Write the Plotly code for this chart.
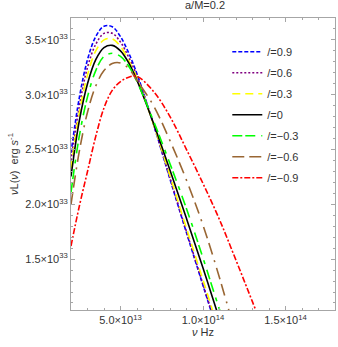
import plotly.graph_objects as go

# frequency grid (Hz)
nu = [2.0e13, 2.5e13, 3.0e13, 3.5e13, 4.0e13, 4.5e13, 5.0e13, 5.5e13, 6.0e13,
      7.0e13, 8.0e13, 9.0e13, 1.0e14, 1.1e14, 1.2e14, 1.3e14, 1.4e14]

# luminosity nu*L(nu) in units of 1e33 erg/s
L_p09 = [2.47, 2.97, 3.32, 3.53, 3.625, 3.62, 3.53, 3.38, 3.19, 2.73, 2.23, 1.74, 1.26, 0.78]
L_p06 = [2.40, 2.89, 3.25, 3.46, 3.56, 3.56, 3.48, 3.34, 3.17, 2.73, 2.24, 1.75, 1.27, 0.79]
L_p03 = [2.33, 2.83, 3.18, 3.40, 3.50, 3.51, 3.44, 3.31, 3.15, 2.73, 2.26, 1.78, 1.31, 0.83]
L_0 = [2.255, 2.76, 3.10, 3.32, 3.43, 3.45, 3.40, 3.29, 3.13, 2.74, 2.31, 1.87, 1.42, 0.95]
L_m03 = [2.11, 2.62, 2.98, 3.22, 3.35, 3.378, 3.35, 3.26, 3.12, 2.76, 2.37, 1.96, 1.51, 1.04, 0.6]
L_m06 = [2.00, 2.48, 2.84, 3.08, 3.22, 3.285, 3.29, 3.24, 3.13, 2.90, 2.58, 2.22, 1.81, 1.33, 0.80]
L_m09 = [1.62, 1.98, 2.30, 2.62, 2.88, 3.04, 3.12, 3.16, 3.167, 3.03, 2.80, 2.50, 2.19, 1.86, 1.49, 1.11, 0.73]

labels = ["/=0.9", "/=0.6", "/=0.3", "/=0", "/=\u22120.3", "/=\u22120.6", "/=\u22120.9"]
series = [L_p09, L_p06, L_p03, L_0, L_m03, L_m06, L_m09]
colors = ["#0000ff", "#800080", "#ffff00", "#000000", "#00ff00", "#996633", "#ff0000"]
dashes = ["4px,2px", "2px,2px", "8px,5px", "solid",
          "10px,3px,10px,6px,4px,6px", "12px,5px,12px,6px,2px,6px", "6px,2px,2px,2px"]

y_ticks = [1.5e33, 2.0e33, 2.5e33, 3.0e33, 3.5e33]
y_ticktext = ["1.5\u00d710<sup>33</sup>", "2.0\u00d710<sup>33</sup>", "2.5\u00d710<sup>33</sup>",
              "3.0\u00d710<sup>33</sup>", "3.5\u00d710<sup>33</sup>"]
x_ticks = [5.0e13, 1.0e14, 1.5e14]
x_ticktext = ["5.0\u00d710<sup>13</sup>", "1.0\u00d710<sup>14</sup>", "1.5\u00d710<sup>14</sup>"]

FONT = "Liberation Sans, Arial"

fig = go.Figure()
for i, (lab, vals, c, d) in enumerate(zip(labels, series, colors, dashes)):
    fig.add_trace(go.Scatter(
        x=nu[:len(vals)], y=[v * 1e33 for v in vals], mode="lines", name=lab,
        legendgroup="g%d" % i,
        line=dict(color=c, width=1.6, dash=d, shape="spline", smoothing=1.0)))

axis_common = dict(
    showline=True, linecolor="#a6a6a6", linewidth=1, mirror="allticks",
    ticks="inside", ticklen=4, tickcolor="#a6a6a6", tickwidth=1,
    showgrid=False, zeroline=False, automargin=False,
    tickfont=dict(family=FONT, size=11, color="#333333"),
)

fig.update_layout(
    width=338, height=347,
    margin=dict(l=71, r=3, t=18, b=37, autoexpand=False),
    paper_bgcolor="white", plot_bgcolor="white",
    title=dict(text="a/M=0.2", x=205 / 338, xref="container", xanchor="center",
               y=1 - 1 / 347, yref="container", yanchor="top",
               font=dict(family=FONT, size=11, color="#333333")),
    showlegend=True,
    legend=dict(x=0.592, y=0.934, xanchor="left", yanchor="top",
                bgcolor="rgba(0,0,0,0)", font=dict(family=FONT, size=11, color="#333333"),
                tracegroupgap=2, itemwidth=30),
    xaxis=dict(range=[2.0e13, 1.8e14], tickvals=x_ticks, ticktext=x_ticktext,
               minor=dict(dtick=1e13, tick0=0, ticks="inside", ticklen=2, tickcolor="#a6a6a6"),
               title=dict(text="<i>\u03bd</i> Hz", standoff=3,
                          font=dict(family=FONT, size=11, color="#333333")),
               **axis_common),
    yaxis=dict(range=[1.036e33, 3.7e33], tickvals=y_ticks, ticktext=y_ticktext,
               minor=dict(dtick=1e32, tick0=0, ticks="inside", ticklen=2, tickcolor="#a6a6a6"),
               title=dict(text="<i>\u03bd</i>L(<i>\u03bd</i>)  erg <i>s</i><sup>-1</sup>", standoff=4,
                          font=dict(family=FONT, size=11, color="#333333")),
               **axis_common),
)

fig.write_html("out.html", config={"displayModeBar": False},
               post_script="document.body.style.margin='0';document.body.style.overflow='hidden';")
